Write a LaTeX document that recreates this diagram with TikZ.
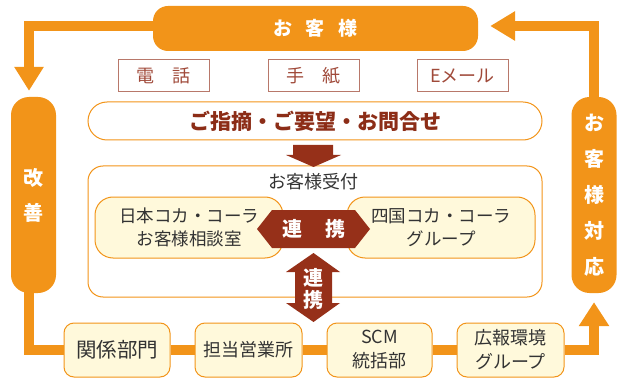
\documentclass[tikz,border=0pt]{standalone}
\usepackage{fontspec}
\setmainfont{Noto Sans CJK JP}
\usepackage{tikz}
\usetikzlibrary{arrows.meta}
\usetikzlibrary{positioning}
\definecolor{ccorange}{HTML}{F29419}
\definecolor{ccbrown}{HTML}{963019}
\definecolor{ccred}{HTML}{8C2D17}
\definecolor{ccmedia}{HTML}{B8786A}
\definecolor{ccmediatext}{HTML}{A04A3A}
\definecolor{ccyellow}{HTML}{FFF9DB}
\definecolor{cctext}{HTML}{333333}

\begin{document}
\begin{tikzpicture}[x=1pt, y=-1pt,
	pill/.style={fill=ccorange, text=white, align=center, inner sep=0pt, font=\bfseries\fontsize{20}{35}\selectfont},
	media/.style={draw=ccmedia, line width=1pt, text=ccmediatext, inner sep=0pt, minimum width=91pt, minimum height=32pt, font=\fontsize{18}{18}\selectfont},
	soft/.style={draw=ccorange, line width=1pt, fill=ccyellow, text=cctext, align=center, inner sep=0pt},
	dept/.style={soft, rounded corners=10pt, minimum width=106pt, minimum height=54pt, font=\fontsize{18}{24}\selectfont},
	linktext/.style={text=white, align=center, inner sep=0pt, font=\bfseries\fontsize{20}{22}\selectfont},
	flow/.style={draw=ccorange, line width=10pt}]

	\useasboundingbox (0,0) rectangle (617,379);

	\node [pill, rounded corners=15pt, minimum width=325pt, minimum height=45pt, font=\bfseries\fontsize{19}{19}\selectfont] (cust) at (315.5,28.5) {お\hspace{14pt}客\hspace{14pt}様};
	\node [pill, rounded corners=18pt, minimum width=45pt, minimum height=196pt] (kaizen) at (33.5,195) {改\\善};
	\node [pill, rounded corners=18pt, minimum width=45pt, minimum height=196pt, font=\bfseries\fontsize{20}{36}\selectfont] (taiou) at (594,195) {お\\客\\様\\対\\応};

	\node [media] (tel) at (163.5,76) {電　話};
	\node [media] (letter) at (313.5,76) {手　紙};
	\node [media] (mail) at (462.5,76) {Eメール};

	\node [draw=ccorange, line width=1pt, rounded corners=19pt, minimum width=454pt, minimum height=38pt, inner sep=0pt, text=ccred, font=\bfseries\fontsize{21}{21}\selectfont] (inq) at (315,121) {ご指摘・ご要望・お問合せ};

	\node [draw=ccorange, line width=1pt, rounded corners=15pt, minimum width=454pt, minimum height=131pt] (recv) at (315,231.5) {};
	\node [text=cctext, inner sep=0pt, font=\fontsize{18}{18}\selectfont] (recvlabel) at (313.5,182) {お客様受付};
	\node [soft, rounded corners=18pt, minimum width=188pt, minimum height=61pt, font=\fontsize{17.5}{23}\selectfont] (coke) at (189,227.5) {日本コカ・コーラ\\お客様相談室};
	\node [soft, rounded corners=18pt, minimum width=188pt, minimum height=61pt, font=\fontsize{17.5}{23}\selectfont] (shikoku) at (441,227.5) {四国コカ・コーラ\\グループ};

	\fill [ccbrown] (293,145) -- (333,145) -- (333,155) -- (341,155) -- (313.5,167) -- (286,155) -- (293,155) -- cycle;
	\fill [ccbrown] (257,229) -- (272,210) -- (355,210) -- (370,229) -- (355,248) -- (272,248) -- cycle;
	\node [linktext] (linkh) at (313.5,229) {連\hspace{23pt}携};
	\fill [ccbrown] (313.5,253) -- (340,272) -- (332,272) -- (332,303) -- (340,303) -- (313.5,322) -- (286,303) -- (295,303) -- (295,272) -- (286,272) -- cycle;
	\node [linktext] (linkv) at (313.5,289) {連\\携};

	\node [dept, font=\fontsize{20.5}{24}\selectfont] (rel) at (117,350) {関係部門};
	\node [dept, minimum width=107pt] (sales) at (248.5,350) {担当営業所};
	\node [dept, minimum width=105pt] (scm) at (379.5,350) {SCM\\統括部};
	\node [dept, minimum width=107pt] (pr) at (510.5,350) {広報環境\\グループ};

	\draw [flow, -{Triangle[width=28pt, length=24pt]}] ([yshift=2.5pt]cust.west) -| ([xshift=-4.5pt, yshift=6pt]kaizen.north);
	\draw [flow, -{Triangle[width=28pt, length=25pt]}] (taiou.north) |- ([xshift=12pt, yshift=2.5pt]cust.east);
	\draw [flow] ([xshift=-4.5pt, yshift=2pt]kaizen.south) |- (rel.west);
	\draw [flow] (rel) -- (sales);
	\draw [flow] (sales) -- (scm);
	\draw [flow] (scm) -- (pr);
	\draw [flow, -{Triangle[width=29pt, length=24pt]}] (pr.east) -| ([yshift=-9pt]taiou.south);
\end{tikzpicture}
\end{document}
